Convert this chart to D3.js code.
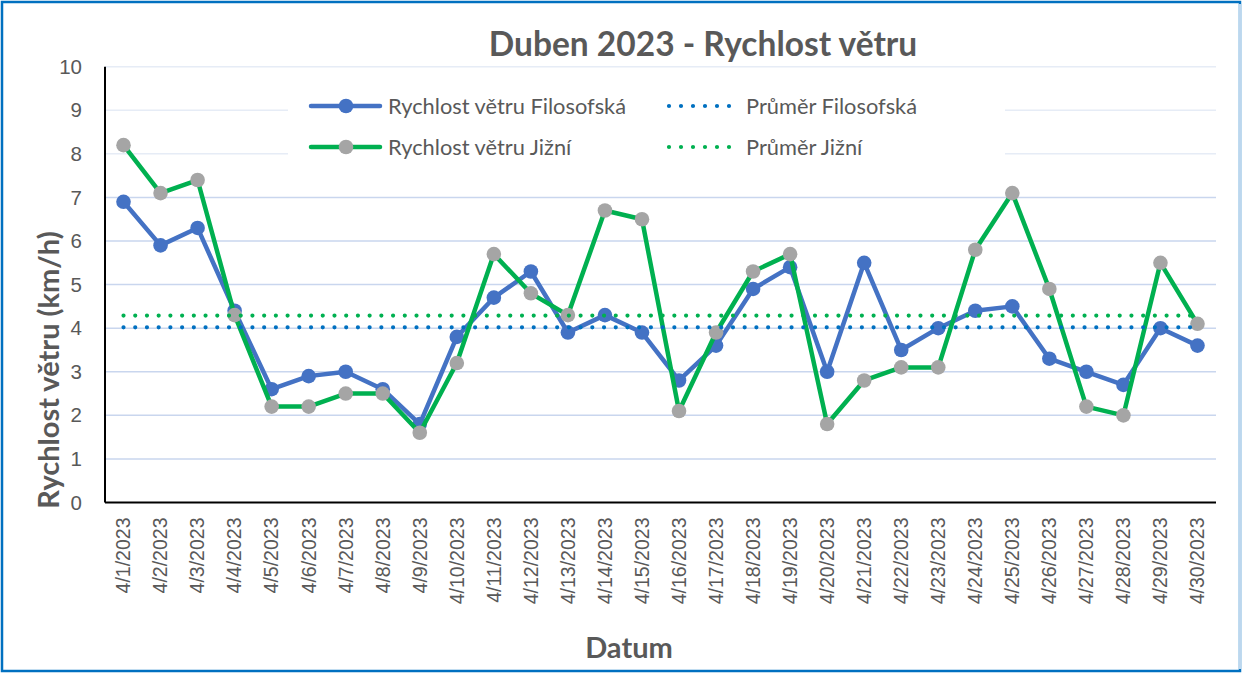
<!DOCTYPE html>
<html>
<head>
<meta charset="utf-8">
<script src="https://cdn.jsdelivr.net/npm/d3@7"></script>
<style>
  html, body { margin: 0; padding: 0; background: #fff; }
  svg { display: block; font-family: Lato, "Open Sans", sans-serif; }
</style>
</head>
<body>
<svg id="chart"></svg>
<script>
// Data
const dates = d3.range(1, 31).map(d => `4/${d}/2023`);
const filosofska = [6.9, 5.9, 6.3, 4.4, 2.6, 2.9, 3.0, 2.6, 1.8, 3.8,
                    4.7, 5.3, 3.9, 4.3, 3.9, 2.8, 3.6, 4.9, 5.4, 3.0,
                    5.5, 3.5, 4.0, 4.4, 4.5, 3.3, 3.0, 2.7, 4.0, 3.6];
const jizni = [8.2, 7.1, 7.4, 4.3, 2.2, 2.2, 2.5, 2.5, 1.6, 3.2,
               5.7, 4.8, 4.3, 6.7, 6.5, 2.1, 3.9, 5.3, 5.7, 1.8,
               2.8, 3.1, 3.1, 5.8, 7.1, 4.9, 2.2, 2.0, 5.5, 4.1];
const prumerFilosofska = 4.02;
const prumerJizni = 4.29;
const yTicks = [0, 1, 2, 3, 4, 5, 6, 7, 8, 9, 10];

// Dimensions
const width = 1242;
const height = 673;
const plot = { left: 105, right: 1216, top: 66.7, bottom: 502.5 };
const textColor = '#595959';

const svg = d3.select('#chart')
    .attr('width', width)
    .attr('height', height);

// Outer frame
svg.append('rect')
    .attr('x', 2).attr('y', 2)
    .attr('width', width - 4).attr('height', height - 4)
    .attr('fill', '#fff')
    .attr('stroke', '#0070C0')
    .attr('stroke-width', 2.5);
svg.append('line')
    .attr('x1', width - 2).attr('x2', width - 2)
    .attr('y1', 4).attr('y2', height - 4)
    .attr('stroke', '#BDD7EE').attr('stroke-width', 2.5);

// Scales
const x = d3.scaleBand()
    .domain(dates)
    .range([plot.left, plot.right]);
const xc = d => x(d) + x.bandwidth() / 2;

const y = d3.scaleLinear()
    .domain([0, 10])
    .range([plot.bottom, plot.top]);

// Gridlines
svg.append('g')
    .selectAll('line')
    .data(yTicks.filter(t => t > 0))
    .join('line')
    .attr('x1', plot.left).attr('x2', plot.right)
    .attr('y1', d => y(d)).attr('y2', d => y(d))
    .attr('stroke', d => d >= 8 ? '#E6ECF6' : '#C9D6EE')
    .attr('stroke-width', 1.5);

// Y axis
const yAxis = svg.append('g')
    .attr('transform', `translate(${plot.left},0)`)
    .call(d3.axisLeft(y).tickValues(yTicks).tickSize(0).tickPadding(23));
yAxis.select('.domain').remove();
yAxis.selectAll('text')
    .attr('fill', textColor)
    .style('font-size', '20.5px');

// X axis
const xAxis = svg.append('g')
    .attr('transform', `translate(0,${plot.bottom})`)
    .call(d3.axisBottom(x).tickSize(0));
xAxis.select('.domain').remove();
xAxis.selectAll('text')
    .attr('fill', textColor)
    .style('font-size', '19.5px')
    .attr('text-anchor', 'end')
    .attr('transform', 'rotate(-90)')
    .attr('x', -15)
    .attr('y', 0)
    .attr('dy', '0.35em');

// Axis lines
svg.append('line')
    .attr('x1', plot.left).attr('x2', plot.left)
    .attr('y1', plot.top).attr('y2', plot.bottom)
    .attr('stroke', '#000').attr('stroke-width', 2);
svg.append('line')
    .attr('x1', plot.left).attr('x2', plot.right)
    .attr('y1', plot.bottom).attr('y2', plot.bottom)
    .attr('stroke', '#000').attr('stroke-width', 2);

// Legend background
svg.append('rect')
    .attr('x', 288).attr('y', 78)
    .attr('width', 717).attr('height', 94)
    .attr('fill', '#fff');

// Series
const series = [
    { name: 'Rychlost větru Filosofská', values: filosofska, line: '#4472C4', marker: '#4472C4' },
    { name: 'Rychlost větru Jižní', values: jizni, line: '#00B050', marker: '#A5A5A5' }
];
const averages = [
    { name: 'Průměr Filosofská', value: prumerFilosofska, color: '#0070C0' },
    { name: 'Průměr Jižní', value: prumerJizni, color: '#00B050' }
];

const lineGen = d3.line()
    .x((d, i) => xc(dates[i]))
    .y(d => y(d));

series.forEach(s => {
    svg.append('path')
        .datum(s.values)
        .attr('fill', 'none')
        .attr('stroke', s.line)
        .attr('stroke-width', 4.5)
        .attr('stroke-linejoin', 'round')
        .attr('d', lineGen);
    svg.append('g')
        .selectAll('circle')
        .data(s.values)
        .join('circle')
        .attr('cx', (d, i) => xc(dates[i]))
        .attr('cy', d => y(d))
        .attr('r', 7.3)
        .attr('fill', s.marker);
});

averages.forEach(a => {
    svg.append('line')
        .attr('x1', xc(dates[0])).attr('x2', xc(dates[dates.length - 1]))
        .attr('y1', y(a.value)).attr('y2', y(a.value))
        .attr('stroke', a.color)
        .attr('stroke-width', 4.2)
        .attr('stroke-linecap', 'round')
        .attr('stroke-dasharray', '0 11.72');
});

// Legend
const legendRows = [106, 147];
series.forEach((s, i) => {
    const g = svg.append('g').attr('transform', `translate(0,${legendRows[i]})`);
    g.append('line')
        .attr('x1', 311).attr('x2', 380)
        .attr('stroke', s.line).attr('stroke-width', 4.5)
        .attr('stroke-linecap', 'round');
    g.append('circle')
        .attr('cx', 346).attr('r', 7.3)
        .attr('fill', s.marker);
    g.append('text')
        .attr('x', 388).attr('dy', '0.35em')
        .attr('fill', textColor)
        .style('font-size', '21.8px')
        .text(s.name);
});
averages.forEach((a, i) => {
    const g = svg.append('g').attr('transform', `translate(0,${legendRows[i]})`);
    g.append('line')
        .attr('x1', 669).attr('x2', 730)
        .attr('stroke', a.color).attr('stroke-width', 4.2)
        .attr('stroke-linecap', 'round')
        .attr('stroke-dasharray', '0 12');
    g.append('text')
        .attr('x', 746).attr('dy', '0.35em')
        .attr('fill', textColor)
        .style('font-size', '21.8px')
        .text(a.name);
});

// Titles
svg.append('text')
    .attr('x', 703).attr('y', 56)
    .attr('text-anchor', 'middle')
    .attr('fill', textColor)
    .style('font-size', '33.5px')
    .style('font-weight', 'bold')
    .text('Duben 2023 - Rychlost větru');

svg.append('text')
    .attr('transform', 'translate(59,370) rotate(-90)')
    .attr('text-anchor', 'middle')
    .attr('fill', textColor)
    .style('font-size', '29px')
    .style('font-weight', 'bold')
    .text('Rychlost větru (km/h)');

svg.append('text')
    .attr('x', 629).attr('y', 658)
    .attr('text-anchor', 'middle')
    .attr('fill', textColor)
    .style('font-size', '29px')
    .style('font-weight', 'bold')
    .text('Datum');
</script>
</body>
</html>
